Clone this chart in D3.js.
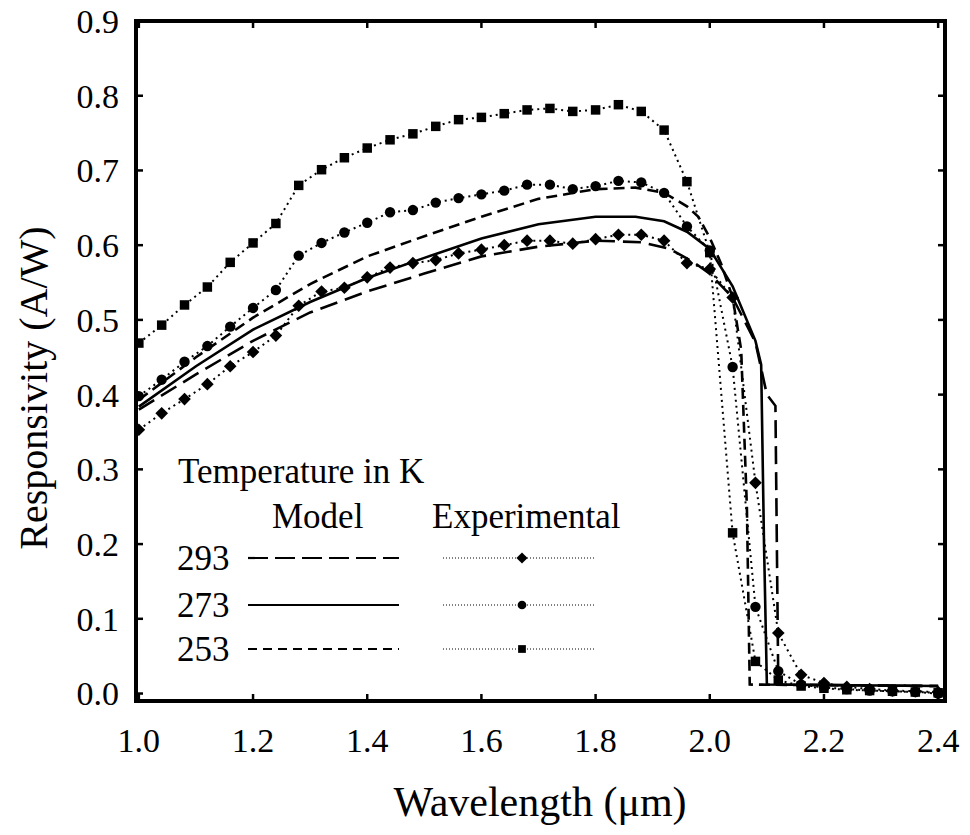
<!DOCTYPE html>
<html>
<head>
<meta charset="utf-8">
<script src="https://cdn.jsdelivr.net/npm/d3@7/dist/d3.min.js"></script>
<style>
  body { margin: 0; background: #fff; }
  svg { display: block; font-family: "Liberation Serif", "Times New Roman", serif; }
</style>
</head>
<body>
<svg id="chart" width="970" height="835"></svg>
<script>
// experimental wavelengths (µm)
const expX = [1.00, 1.04, 1.08, 1.12, 1.16, 1.20, 1.24, 1.28, 1.32, 1.36, 1.40, 1.44,
  1.48, 1.52, 1.56, 1.60, 1.64, 1.68, 1.72, 1.76, 1.80, 1.84, 1.88, 1.92, 1.96, 2.00,
  2.04, 2.08, 2.12, 2.16, 2.20, 2.24, 2.28, 2.32, 2.36, 2.40];

const exp293 = [0.353, 0.375, 0.394, 0.414, 0.438, 0.457, 0.479, 0.519, 0.538, 0.543, 0.557, 0.570,
  0.576, 0.580, 0.589, 0.594, 0.600, 0.606, 0.606, 0.602, 0.608, 0.614, 0.614, 0.606, 0.576, 0.568,
  0.530, 0.282, 0.081, 0.025, 0.014, 0.009, 0.006, 0.004, 0.003, 0.002];

const exp273 = [0.398, 0.420, 0.444, 0.465, 0.491, 0.516, 0.540, 0.586, 0.603, 0.617, 0.630, 0.644,
  0.647, 0.657, 0.663, 0.668, 0.673, 0.681, 0.681, 0.675, 0.679, 0.686, 0.684, 0.670, 0.625, 0.593,
  0.437, 0.116, 0.030, 0.012, 0.008, 0.006, 0.004, 0.003, 0.002, 0.000];

const exp253 = [0.469, 0.493, 0.520, 0.544, 0.577, 0.603, 0.629, 0.680, 0.701, 0.717, 0.730, 0.741,
  0.749, 0.759, 0.768, 0.771, 0.776, 0.781, 0.783, 0.779, 0.781, 0.788, 0.779, 0.754, 0.685, 0.590,
  0.215, 0.043, 0.018, 0.010, 0.007, 0.005, 0.004, 0.003, 0.002, 0.001];

// model curves
const model293X = [1.00, 1.10, 1.20, 1.30, 1.40, 1.50, 1.60, 1.70, 1.80, 1.88, 1.93, 1.97, 2.00, 2.04, 2.08, 2.10, 2.115, 2.12, 2.40];
const model293Y = [0.380, 0.427, 0.472, 0.510, 0.538, 0.562, 0.585, 0.598, 0.606, 0.604, 0.595, 0.578, 0.562, 0.530, 0.470, 0.400, 0.385, 0.012, 0.010];

const model273X = [1.00, 1.10, 1.20, 1.30, 1.40, 1.50, 1.60, 1.70, 1.80, 1.87, 1.92, 1.96, 2.00, 2.04, 2.08, 2.09, 2.095, 2.10, 2.40];
const model273Y = [0.384, 0.438, 0.487, 0.524, 0.556, 0.583, 0.609, 0.628, 0.638, 0.638, 0.632, 0.618, 0.595, 0.545, 0.472, 0.440, 0.200, 0.012, 0.010];

const model253X = [1.00, 1.10, 1.20, 1.30, 1.40, 1.50, 1.60, 1.70, 1.80, 1.87, 1.92, 1.96, 1.98, 2.00, 2.02, 2.04, 2.055, 2.065, 2.07, 2.40];
const model253Y = [0.393, 0.450, 0.503, 0.548, 0.585, 0.612, 0.638, 0.662, 0.675, 0.677, 0.670, 0.652, 0.638, 0.610, 0.575, 0.530, 0.460, 0.250, 0.012, 0.010];

const xTicks = [1.0, 1.2, 1.4, 1.6, 1.8, 2.0, 2.2, 2.4];
const yTicks = [0.0, 0.1, 0.2, 0.3, 0.4, 0.5, 0.6, 0.7, 0.8, 0.9];

const temps = ["293", "273", "253"];
const modelDash = ["18,8", null, "11,6"];
const legendDash = ["20,7", null, "9,6"];
const markerType = ["diamond", "circle", "square"];

const svg = d3.select("#chart");
const pLeft = 136, pRight = 945, pTop = 21, pBottom = 701;

const x = d3.scaleLinear().domain([0.995, 2.412]).range([pLeft, pRight]);
const y = d3.scaleLinear().domain([-0.01, 0.9]).range([pBottom, pTop]);

svg.append("defs").append("clipPath").attr("id", "plotClip")
  .append("rect").attr("x", pLeft).attr("y", pTop)
  .attr("width", pRight - pLeft).attr("height", pBottom - pTop);

const plot = svg.append("g").attr("clip-path", "url(#plotClip)");

// diamonds are squares turned by 45 degrees
function markerPath(type, size) {
  if (type === "circle") return d3.symbol(d3.symbolCircle, size)();
  return d3.symbol(d3.symbolSquare, size)();
}
function markerTransform(type, px, py) {
  return `translate(${px},${py})` + (type === "diamond" ? " rotate(45)" : "");
}

const line = d3.line().x((d) => x(d[0])).y((d) => y(d[1]));

// model lines
[[model293X, model293Y], [model273X, model273Y], [model253X, model253Y]].forEach((m, i) => {
  plot.append("path")
    .datum(m[0].map((v, j) => [v, m[1][j]]))
    .attr("d", line)
    .attr("fill", "none")
    .attr("stroke", "#000")
    .attr("stroke-width", 2.6)
    .attr("stroke-dasharray", modelDash[i]);
});

// experimental lines + markers
const markerSize = { diamond: 80, circle: 85, square: 90 };
[exp293, exp273, exp253].forEach((s, i) => {
  const pts = expX.map((v, j) => [v, s[j]]);
  plot.append("path")
    .datum(pts)
    .attr("d", line)
    .attr("fill", "none")
    .attr("stroke", "#000")
    .attr("stroke-width", 2)
    .attr("stroke-dasharray", "2,4");
  const t = markerType[i];
  plot.append("g").selectAll("path")
    .data(pts)
    .enter().append("path")
    .attr("d", markerPath(t, markerSize[t]))
    .attr("transform", (d) => markerTransform(t, x(d[0]), y(d[1])))
    .attr("fill", "#000");
});

// frame
svg.append("rect")
  .attr("x", pLeft).attr("y", pTop)
  .attr("width", pRight - pLeft).attr("height", pBottom - pTop)
  .attr("fill", "none").attr("stroke", "#000").attr("stroke-width", 4);

// ticks, inward on all four sides
const tickLen = 7;
xTicks.forEach((t) => {
  svg.append("line").attr("x1", x(t)).attr("x2", x(t))
    .attr("y1", pBottom).attr("y2", pBottom - tickLen)
    .attr("stroke", "#000").attr("stroke-width", 2.5);
  svg.append("line").attr("x1", x(t)).attr("x2", x(t))
    .attr("y1", pTop).attr("y2", pTop + tickLen)
    .attr("stroke", "#000").attr("stroke-width", 2.5);
});
yTicks.forEach((t) => {
  svg.append("line").attr("x1", pLeft).attr("x2", pLeft + tickLen)
    .attr("y1", y(t)).attr("y2", y(t))
    .attr("stroke", "#000").attr("stroke-width", 2.5);
  svg.append("line").attr("x1", pRight).attr("x2", pRight - tickLen)
    .attr("y1", y(t)).attr("y2", y(t))
    .attr("stroke", "#000").attr("stroke-width", 2.5);
});

// tick labels
svg.append("g").selectAll("text")
  .data(xTicks).enter().append("text")
  .attr("x", (d) => x(d)).attr("y", 752)
  .attr("text-anchor", "middle")
  .attr("font-size", 34)
  .text((d) => d.toFixed(1));

svg.append("g").selectAll("text")
  .data(yTicks).enter().append("text")
  .attr("x", 119).attr("y", (d) => y(d))
  .attr("dy", "0.35em")
  .attr("text-anchor", "end")
  .attr("font-size", 34)
  .text((d) => d.toFixed(1));

// axis titles
svg.append("text")
  .attr("x", 540).attr("y", 816)
  .attr("text-anchor", "middle")
  .attr("font-size", 42)
  .text("Wavelength (\u03bcm)");

svg.append("text")
  .attr("transform", "translate(47,388) rotate(-90)")
  .attr("text-anchor", "middle")
  .attr("font-size", 40)
  .text("Responsivity (A/W)");

// legend
const legend = svg.append("g").attr("font-size", 35);
legend.append("text").attr("x", 178).attr("y", 483).text("Temperature in K");
legend.append("text").attr("x", 272).attr("y", 528).text("Model");
legend.append("text").attr("x", 432).attr("y", 528).text("Experimental");

const rowY = [558, 605, 649];
temps.forEach((t, i) => {
  legend.append("text").attr("x", 177).attr("y", rowY[i] + 12).text(t);
  legend.append("line")
    .attr("x1", 248).attr("x2", 399).attr("y1", rowY[i]).attr("y2", rowY[i])
    .attr("stroke", "#000").attr("stroke-width", 2.2)
    .attr("stroke-dasharray", legendDash[i]);
  legend.append("line")
    .attr("x1", 443).attr("x2", 595).attr("y1", rowY[i]).attr("y2", rowY[i])
    .attr("stroke", "#000").attr("stroke-width", 1.2)
    .attr("stroke-dasharray", "1,2");
  const mt = markerType[i];
  legend.append("path")
    .attr("d", markerPath(mt, mt === "diamond" ? 62 : 60))
    .attr("transform", markerTransform(mt, 522, rowY[i]))
    .attr("fill", "#000");
});
</script>
</body>
</html>
